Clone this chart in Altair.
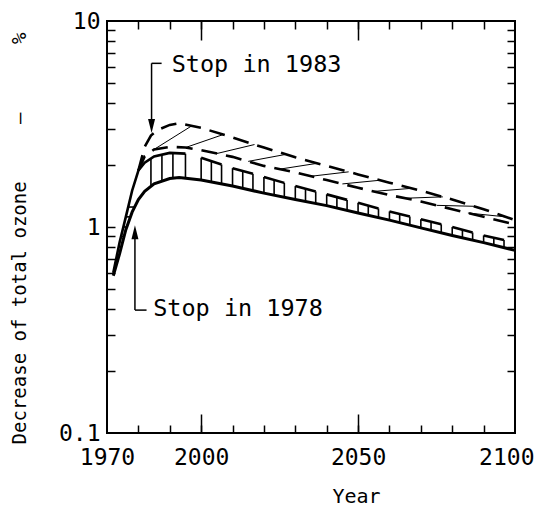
import altair as alt
import numpy as np
import pandas as pd

MONO = "DejaVu Sans Mono"

# ---- curves (year, % decrease) ----
years_low78 = [1972, 1974, 1976, 1978, 1980, 1982, 1985, 1990, 1993, 2000, 2010, 2020, 2030,
               2040, 2050, 2060, 2070, 2080, 2090, 2100]
low78 = [0.58, 0.74, 0.97, 1.18, 1.36, 1.49, 1.62, 1.72, 1.74, 1.69, 1.58, 1.46, 1.36,
         1.27, 1.17, 1.08, 0.99, 0.91, 0.84, 0.77]

years_up78 = [1972, 1974, 1976, 1978, 1980, 1982, 1985, 1990, 1995, 2000, 2010, 2020, 2030,
              2040, 2050, 2060, 2070, 2080, 2090, 2100]
up78 = [0.60, 0.84, 1.12, 1.50, 1.88, 2.05, 2.20, 2.29, 2.27, 2.17, 1.93, 1.75, 1.58,
        1.44, 1.31, 1.19, 1.09, 1.00, 0.91, 0.84]

years_low83 = [1980, 1982, 1985, 1990, 1995, 2000, 2010, 2020, 2030, 2040, 2050, 2060,
               2070, 2080, 2090, 2100]
low83 = [1.88, 2.20, 2.38, 2.45, 2.43, 2.36, 2.19, 1.98, 1.84, 1.69, 1.55, 1.43,
         1.33, 1.22, 1.12, 1.03]

years_up83 = [1980, 1982, 1984, 1986, 1990, 1993, 2000, 2010, 2020, 2030, 2040, 2050,
              2060, 2070, 2080, 2090, 2100]
up83 = [1.88, 2.45, 2.78, 2.95, 3.13, 3.19, 3.03, 2.72, 2.43, 2.18, 1.98, 1.80,
        1.64, 1.50, 1.36, 1.22, 1.08]

# ---- axis ticks ----
x_label_values = [1970, 2000, 2050, 2100]
x_minor_values = [1980, 1990, 2000, 2010, 2020, 2030, 2040, 2050, 2060, 2070, 2080, 2090]
x_major_values = [2000, 2050]
y_label_values = [0.1, 1, 10]
y_minor_values = [0.2, 0.3, 0.4, 0.5, 0.6, 0.7, 0.8, 0.9, 1, 2, 3, 4, 5, 6, 7, 8, 9]

# ---- hatching layout (decoration) ----
up78_solid_until = 1995
peak_hatch_years = [1984, 1987.5, 1991, 1995]
box_starts = [2000, 2010, 2020, 2030, 2040, 2050, 2060, 2070, 2080, 2090]
box_width = 6.5
rung_levels = [0.7, 0.8, 0.9, 1.0, 1.12, 1.25]
diag_starts = [1985, 1995, 2005, 2015, 2025, 2035, 2045, 2055, 2065, 2075, 2085]
diag_span = 12

# ---- annotations ----
ann_text = ["Stop in 1983", "Stop in 1978"]
ann_text_x = [1990.6, 1984.7]
ann_text_y = [5.65, 0.368]
bracket_x = [1984.2, 1984.2, 1978.9, 1978.9]
bracket_x2 = [1984.2, 1987.4, 1978.9, 1982.6]
bracket_y = [6.23, 6.23, 0.395, 0.395]
bracket_y2 = [3.2, 6.23, 0.93, 0.395]
arrow_down = (1984.2, 2.86)
arrow_up = (1978.9, 1.02)


def at(t, yrs, vals):
    return float(10 ** np.interp(t, yrs, np.log10(vals)))


def year_of(v, yrs, vals):
    return float(np.interp(np.log10(v), np.log10(vals), yrs))


df_low78 = pd.DataFrame({"x": years_low78, "y": low78})
df_up78_solid = pd.DataFrame({"x": [x for x in years_up78 if x <= up78_solid_until],
                              "y": [v for x, v in zip(years_up78, up78) if x <= up78_solid_until]})
df_low83 = pd.DataFrame({"x": years_low83, "y": low83})
df_up83 = pd.DataFrame({"x": years_up83, "y": up83})

box_tops = pd.DataFrame({
    "x": box_starts,
    "x2": [s + box_width for s in box_starts],
    "y": [at(s, years_up78, up78) for s in box_starts],
    "y2": [at(s + box_width, years_up78, up78) for s in box_starts],
})

vert_years = list(peak_hatch_years)
for s in box_starts:
    vert_years += [s, s + box_width / 2, s + box_width]
verts = pd.DataFrame({
    "x": vert_years,
    "y": [at(t, years_low78, low78) for t in vert_years],
    "y2": [at(t, years_up78, up78) for t in vert_years],
})

ra_y = [y for y in years_low78 if y <= 1990]
ra_v = low78[:len(ra_y)]
rb_y = [y for y in years_up78 if y <= 1990]
rb_v = up78[:len(rb_y)]
rungs = pd.DataFrame({
    "x": [year_of(v, rb_y, rb_v) for v in rung_levels],
    "x2": [year_of(v, ra_y, ra_v) for v in rung_levels],
    "y": rung_levels,
})

diags = pd.DataFrame({
    "x": diag_starts,
    "x2": [s + diag_span for s in diag_starts],
    "y": [at(s, years_low83, low83) for s in diag_starts],
    "y2": [at(s + diag_span, years_up83, up83) for s in diag_starts],
})

df_text = pd.DataFrame({"x": ann_text_x, "y": ann_text_y, "t": ann_text})
df_br = pd.DataFrame({"x": bracket_x, "x2": bracket_x2, "y": bracket_y, "y2": bracket_y2})
df_ad = pd.DataFrame({"x": [arrow_down[0]], "y": [arrow_down[1]]})
df_au = pd.DataFrame({"x": [arrow_up[0]], "y": [arrow_up[1]]})

xs = alt.Scale(domain=[1970, 2100], nice=False, zero=False)
ys = alt.Scale(type="log", domain=[0.1, 10], nice=False)


def tick_axis(orient, values, size):
    return alt.Axis(orient=orient, values=values, labels=False, domain=False, grid=False,
                    ticks=True, tickSize=size, offset=-size, tickWidth=1.5,
                    tickColor="black", title=None)


last_test = "datum.value == 2100"
ax_x_lab = alt.Axis(orient="bottom", values=x_label_values, format="d", ticks=False, tickSize=0,
                    domain=False, grid=False, labelPadding=13, labelFont=MONO, labelFontSize=23,
                    labelColor="black", labelFlush=False, labelOverlap=False,
                    labelAlign={"condition": {"test": last_test, "value": "right"}, "value": "center"},
                    labelOffset={"condition": {"test": last_test, "value": 19}, "value": 0},
                    title="Year", titleFont=MONO, titleFontSize=20, titleFontWeight="normal",
                    titleColor="black", titleX=249, titleY=69, titleAlign="center",
                    titleBaseline="alphabetic")
NB = "\u00a0"
ytitle = "Decrease of total ozone" + NB * 5 + "\u2014" + NB * 6 + "%"
ax_y_lab = alt.Axis(orient="left", values=y_label_values, format="~g", ticks=False, tickSize=0,
                    domain=False, grid=False, labelPadding=7, labelFont=MONO, labelFontSize=23,
                    labelColor="black", labelFlush=False, labelOverlap=False,
                    title=ytitle, titleFont=MONO, titleFontSize=19, titleFontWeight="normal",
                    titleColor="black", titleAngle=270, titleX=-88, titleY=217,
                    titleAlign="center", titleBaseline="middle")


def X(axis=None, field="x"):
    return alt.X(f"{field}:Q", scale=xs, axis=axis)


def Y(axis=None, field="y"):
    return alt.Y(f"{field}:Q", scale=ys, axis=axis)


l_low78 = alt.Chart(df_low78).mark_line(color="black", strokeWidth=3).encode(
    x=X(ax_x_lab), y=Y(ax_y_lab))
l_up78 = alt.Chart(df_up78_solid).mark_line(color="black", strokeWidth=2.6).encode(
    x=X(tick_axis("bottom", x_minor_values, 8)), y=Y(tick_axis("left", y_minor_values, 8)))
l_box = alt.Chart(box_tops).mark_rule(color="black", strokeWidth=2.6).encode(
    x=X(tick_axis("bottom", x_major_values, 19)), x2="x2:Q", y=Y(), y2="y2:Q")
l_vert = alt.Chart(verts).mark_rule(color="black", strokeWidth=1.6).encode(
    x=X(tick_axis("top", x_minor_values, 8)), y=Y(tick_axis("right", y_minor_values, 8)), y2="y2:Q")
l_rung = alt.Chart(rungs).mark_rule(color="black", strokeWidth=1.6).encode(
    x=X(tick_axis("top", x_major_values, 19)), x2="x2:Q", y=Y())
l_low83 = alt.Chart(df_low83).mark_line(color="black", strokeWidth=2.6, strokeDash=[16, 9]).encode(
    x=X(), y=Y())
l_up83 = alt.Chart(df_up83).mark_line(color="black", strokeWidth=2.6, strokeDash=[16, 9]).encode(
    x=X(), y=Y())
l_diag = alt.Chart(diags).mark_rule(color="black", strokeWidth=1, clip=True).encode(
    x=X(), x2="x2:Q", y=Y(), y2="y2:Q")
l_text = alt.Chart(df_text).mark_text(align="left", baseline="alphabetic", font=MONO,
                                      fontSize=23.5, color="black").encode(
    x=X(), y=Y(), text="t:N")
l_br = alt.Chart(df_br).mark_rule(color="black", strokeWidth=1.5).encode(
    x=X(), x2="x2:Q", y=Y(), y2="y2:Q")
l_ad = alt.Chart(df_ad).mark_point(shape="M -0.5 -2 L 0.5 -2 L 0 0 Z", size=196, filled=True,
                                   color="black", opacity=1).encode(x=X(), y=Y())
l_au = alt.Chart(df_au).mark_point(shape="M -0.5 2 L 0.5 2 L 0 0 Z", size=196, filled=True,
                                   color="black", opacity=1).encode(x=X(), y=Y())

chart = alt.layer(
    l_vert, l_rung, l_box, l_diag, l_low83, l_up83, l_up78, l_low78, l_br, l_ad, l_au, l_text
).resolve_axis(x="independent", y="independent").properties(
    width=408, height=412,
    padding={"left": 99, "top": 13, "right": 20, "bottom": 73},
    autosize=alt.AutoSizeParams(type="none"),
    background="white",
).configure_view(stroke="black", strokeWidth=2)

chart.save("out.html", embed_options={"renderer": "svg", "actions": False})
